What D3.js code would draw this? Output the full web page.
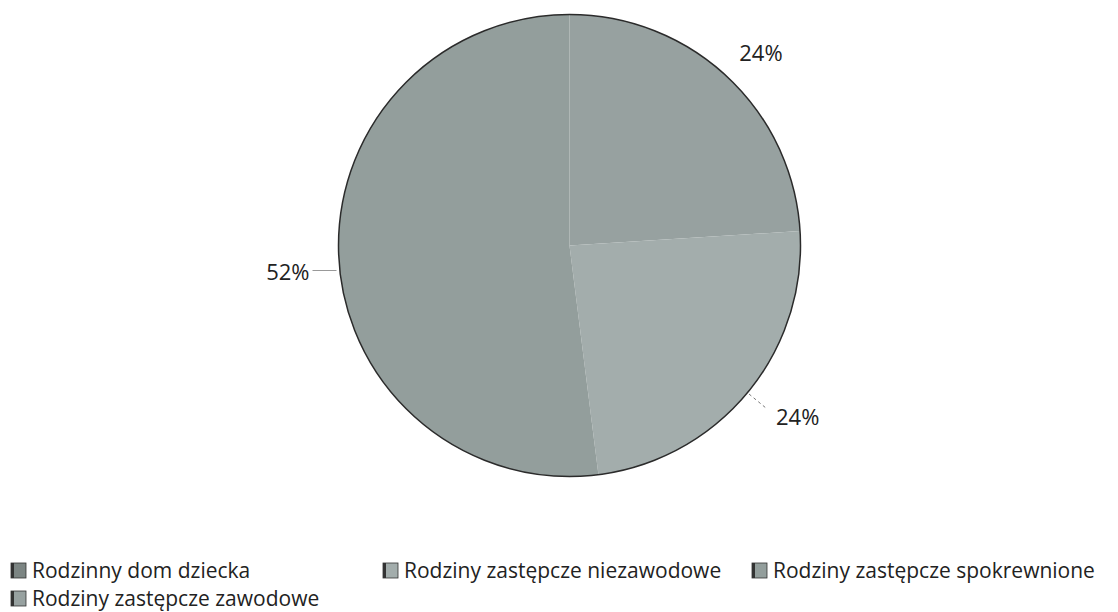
<!DOCTYPE html>
<html>
<head>
<meta charset="utf-8">
<script src="https://cdn.jsdelivr.net/npm/d3@7"></script>
<style>
  body { margin: 0; background: #fff; }
  svg { display: block; font-family: "Open Sans", "Noto Sans", sans-serif; }
</style>
</head>
<body>
<svg width="1118" height="612"></svg>
<script>
var categories = ["Rodzinny dom dziecka", "Rodziny zastępcze zawodowe", "Rodziny zastępcze niezawodowe", "Rodziny zastępcze spokrewnione"];
var values = [0, 24, 24, 52];
var labels = ["", "24%", "24%", "52%"];
var colors = ["#7c8583", "#97a1a0", "#a3adac", "#939e9c"];

var data = categories.map(function (c, i) {
    return {name: c, value: values[i], label: labels[i]};
});

var svg = d3.select("svg");
var cx = 569.5, cy = 245.5, radius = 231;
var g = svg.append("g").attr("transform", "translate(" + cx + "," + cy + ")");

var color = d3.scaleOrdinal().domain(categories).range(colors);

var pie = d3.pie().sort(null).value(function (d) { return d.value; });
var arc = d3.arc().outerRadius(radius).innerRadius(0);

var arcs = pie(data);

g.selectAll(".slice")
    .data(arcs)
    .enter().append("path")
    .attr("class", "slice")
    .attr("d", arc)
    .style("fill", function (d) { return color(d.data.name); });

// dark outline of the disc
g.append("circle")
    .attr("r", radius)
    .attr("fill", "none")
    .attr("stroke", "#2b2b2b")
    .attr("stroke-width", 1.5);

// labels
var shown = arcs.filter(function (d) { return d.data.value > 0; });

function mid(d) { return (d.startAngle + d.endAngle) / 2; }
function pt(a, r) { return [Math.sin(a) * r, -Math.cos(a) * r]; }

shown.forEach(function (d) {
    var a = mid(d);
    var i = d.index;
    var p, anchor;
    if (i === 1) {
        p = pt(a, 265);
        p[0] += 10;
        anchor = "middle";
    }
    if (i === 2) {
        var s = pt(a, radius + 2), e = pt(a, radius + 25);
        g.append("line")
            .attr("x1", s[0]).attr("y1", s[1]).attr("x2", e[0]).attr("y2", e[1])
            .attr("stroke", "#777").attr("stroke-width", 1).attr("stroke-dasharray", "3,3");
        p = pt(a, 268);
        anchor = "start";
    }
    if (i === 3) {
        g.append("line")
            .attr("x1", -radius - 2).attr("y1", 25).attr("x2", -radius - 26).attr("y2", 25)
            .attr("stroke", "#999").attr("stroke-width", 1);
        p = [-radius - 29, 25];
        anchor = "end";
    }
    g.append("text")
        .attr("x", p[0]).attr("y", p[1])
        .attr("text-anchor", anchor)
        .attr("dominant-baseline", "central")
        .attr("font-size", 22)
        .attr("fill", "#222")
        .text(d.data.label);
});

// legend
var legendPos = [[11, 570], [11, 598], [383, 570], [752, 570]];
var legend = svg.selectAll(".legend")
    .data(data)
    .enter().append("g")
    .attr("class", "legend")
    .attr("transform", function (d, i) { return "translate(" + legendPos[i][0] + "," + legendPos[i][1] + ")"; });

legend.append("rect")
    .attr("x", 0).attr("y", -7).attr("width", 15).attr("height", 15)
    .style("fill", function (d) { return color(d.name); })
    .attr("stroke", "#333").attr("stroke-width", 0.8);

legend.append("rect")
    .attr("x", 0).attr("y", -7).attr("width", 3).attr("height", 15)
    .attr("fill", "#333");

legend.append("text")
    .attr("x", 21).attr("y", 0)
    .attr("dominant-baseline", "central")
    .attr("font-size", 21)
    .attr("fill", "#222")
    .text(function (d) { return d.name; });
</script>
</body>
</html>
